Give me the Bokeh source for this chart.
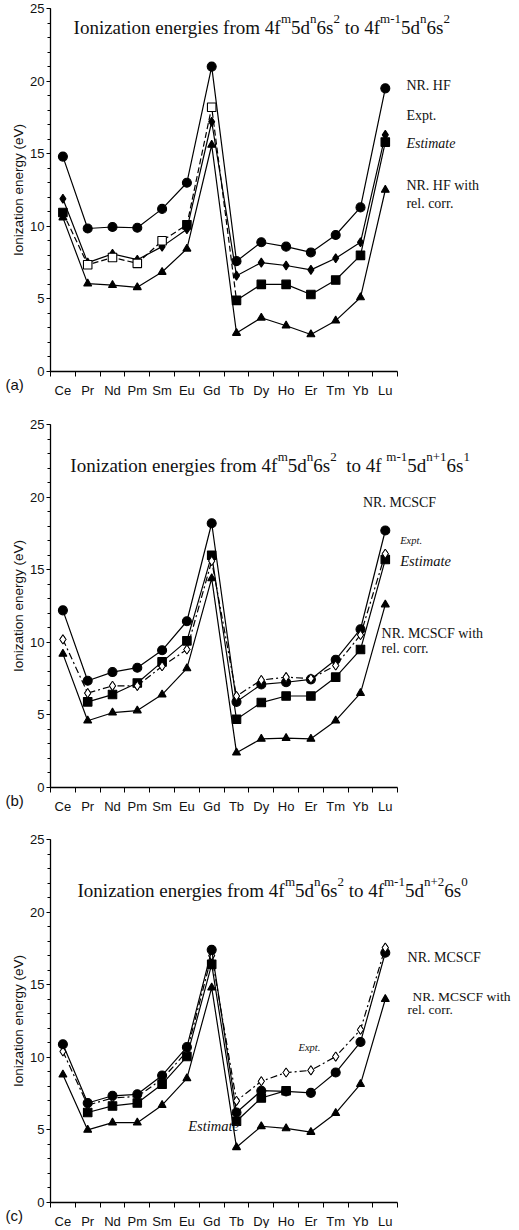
from bokeh.plotting import figure
from bokeh.layouts import column
from bokeh.models import Range1d, FixedTicker, SingleIntervalTicker, Label, CustomJSTickFormatter
from bokeh.embed import file_html
from bokeh.resources import INLINE

NAN = float("nan")

categories = ["Ce", "Pr", "Nd", "Pm", "Sm", "Eu", "Gd", "Tb", "Dy", "Ho", "Er", "Tm", "Yb", "Lu"]

# ---- panel (a) ----
a_nrhf = [14.8, 9.85, 9.95, 9.9, 11.2, 13.0, 21.0, 7.6, 8.9, 8.6, 8.2, 9.4, 11.3, 19.5]
a_diamond = [11.9, 7.5, 8.1, 7.7, 8.6, 9.8, 17.2, 6.6, 7.5, 7.3, 7.0, 7.8, 8.9, 16.3]
a_expt = [None, 7.35, 7.85, 7.45, 9.0, None, 18.2, None, None, None, None, None, None, None]
a_estimate = [10.95, None, None, None, None, 10.1, None, 4.9, 6.0, 6.0, 5.3, 6.3, 8.0, 15.8]
a_relcorr = [10.6, 6.05, 5.95, 5.8, 6.85, 8.45, 15.6, 2.65, 3.7, 3.15, 2.55, 3.5, 5.1, 12.5]

# ---- panel (b) ----
b_mcscf = [12.2, 7.35, 7.95, 8.25, 9.45, 11.45, 18.2, 5.9, 7.1, 7.25, 7.45, 8.8, 10.9, 17.7]
b_expt = [10.2, 6.5, 7.0, 7.0, 8.35, 9.5, 15.6, 6.3, 7.4, 7.6, 7.5, 8.4, 10.5, 16.1]
b_estimate = [None, 5.9, 6.4, 7.2, 8.65, 10.1, 16.0, 4.7, 5.85, 6.3, 6.3, 7.6, 9.5, 15.7]
b_relcorr = [9.2, 4.6, 5.15, 5.3, 6.4, 8.2, 14.4, 2.4, 3.35, 3.4, 3.35, 4.6, 6.5, 12.6]

# ---- panel (c) ----
c_mcscf = [10.9, 6.85, 7.35, 7.45, 8.75, 10.7, 17.4, 6.2, 7.7, 7.65, 7.55, 8.95, 11.05, 17.2]
c_expt = [10.4, 6.7, 7.2, 7.3, 8.5, 10.4, 17.0, 7.0, 8.35, 8.95, 9.1, 10.05, 11.9, 17.55]
c_estimate = [None, 6.2, 6.65, 6.85, 8.15, 10.05, 16.4, 5.6, 7.2, 7.7, None, None, None, None]
c_relcorr = [8.8, 5.0, 5.5, 5.5, 6.7, 8.55, 14.8, 3.8, 5.25, 5.1, 4.85, 6.15, 8.15, 14.0]

y_ticks_major = 5
y_max = 25

# ---- layout constants ----
FIG_W = 517
AXIS_X_PX = 50          # where the value axis sits inside the figure
PX_PER_CAT = 24.8
PXY = 14.52             # pixels per eV
X_MIN = -AXIS_X_PX / PX_PER_CAT
X_MAX = (FIG_W - AXIS_X_PX) / PX_PER_CAT

SERIF = "Liberation Serif"
SANS = "Liberation Sans"

TIMES_W = {
    'I': 333, 'o': 500, 'n': 500, 'i': 278, 'z': 444, 'a': 444, 't': 278, 'e': 444,
    'r': 333, 'g': 500, 's': 389, ' ': 250, 'f': 333, 'm': 778, 'd': 500, '-': 333,
    '+': 564, '0': 500, '1': 500, '2': 500, '4': 500, '5': 500, '6': 500,
}


def text_width(s, size):
    return sum(TIMES_W.get(ch, 500) for ch in s) / 1000.0 * size


def clean(vals):
    return [NAN if v is None else v for v in vals]


xs = [i + 0.5 for i in range(len(categories))]


def make_fig(height, top_px):
    y_top = y_max + top_px / PXY
    y_bot = -(height - top_px - y_max * PXY) / PXY
    p = figure(frame_width=FIG_W, frame_height=height,
               x_range=Range1d(X_MIN, X_MAX), y_range=Range1d(y_bot, y_top),
               output_backend="svg", toolbar_location=None,
               min_border=0, min_border_left=0, min_border_right=0,
               min_border_top=0, min_border_bottom=0)
    p.outline_line_color = None
    p.xgrid.visible = False
    p.ygrid.visible = False
    p.background_fill_color = "white"
    p.border_fill_color = "white"

    xa = p.xaxis[0]
    xa.fixed_location = 0
    xa.bounds = (0, len(categories))
    xa.ticker = FixedTicker(ticks=xs, minor_ticks=list(range(len(categories) + 1)))
    xa.formatter = CustomJSTickFormatter(args=dict(cats=categories),
                                         code="return cats[Math.floor(tick)] || '';")
    xa.major_tick_out = 0
    xa.major_tick_in = 0
    xa.minor_tick_out = 5
    xa.minor_tick_in = 0
    xa.major_label_standoff = 6
    xa.major_label_text_font = SANS
    xa.major_label_text_font_size = "13px"
    xa.major_label_text_color = "#111111"
    xa.axis_line_color = "black"
    xa.axis_line_width = 1.3
    xa.minor_tick_line_color = "black"

    ya = p.yaxis[0]
    ya.fixed_location = 0
    ya.bounds = (0, y_max)
    ya.ticker = SingleIntervalTicker(interval=y_ticks_major, num_minor_ticks=5)
    ya.major_tick_out = 4
    ya.major_tick_in = 0
    ya.minor_tick_out = 3
    ya.minor_tick_in = 0
    ya.major_label_standoff = 2
    ya.major_label_text_font = SANS
    ya.major_label_text_font_size = "13px"
    ya.major_label_text_color = "#111111"
    ya.axis_label = "Ionization energy (eV)"
    ya.axis_label_text_font = SANS
    ya.axis_label_text_font_style = "normal"
    ya.axis_label_text_font_size = "13.5px"
    ya.axis_label_text_color = "#111111"
    ya.axis_label_standoff = 1
    ya.axis_line_color = "black"
    ya.axis_line_width = 1.3
    return p


def series(p, vals, marker, size, filled=True, dash="solid", line=True):
    v = clean(vals)
    if line:
        p.line(xs, v, line_color="black", line_width=1.2, line_dash=dash)
    p.scatter(xs, v, marker=marker, size=size, line_color="black", line_width=1.1,
              fill_color="black" if filled else "white")


def label(p, x, y, text, size="14px", style="normal", font=SERIF, baseline="middle"):
    p.add_layout(Label(x=x, y=y, text=text, text_font=font, text_font_size=size,
                       text_font_style=style, text_baseline=baseline, text_align="left",
                       text_color="#111111"))


def rich_title(p, x0, y0, segs, size=19.0, sup=13.0, raise_px=8.5):
    x = x0
    for s, is_sup in segs:
        fs = sup if is_sup else size
        lead = len(s) - len(s.lstrip(" "))
        core = s.strip(" ")
        x += text_width(" " * lead, fs) / PX_PER_CAT
        y = y0 + (raise_px / PXY if is_sup else 0.0)
        p.add_layout(Label(x=x, y=y, text=core, text_font=SERIF, text_font_size=f"{fs}px",
                           text_baseline="alphabetic", text_align="left", text_color="#111111"))
        x += text_width(core, fs) / PX_PER_CAT
        trail = len(s) - len(s.rstrip(" "))
        x += text_width(" " * trail, fs) / PX_PER_CAT


def panel_tag(p, tag):
    p.add_layout(Label(x=-45.0 / PX_PER_CAT, y=-13.0 / PXY, text=tag, text_font=SANS,
                       text_font_size="15px", text_baseline="middle", text_align="left",
                       text_color="#111111"))


# ================= panel (a) =================
pa = make_fig(416, 8)
combined_a = [e if e is not None else s for e, s in zip(a_expt, a_estimate)]
split = categories.index("Tb")
pa.line(xs[:split + 1], combined_a[:split + 1], line_color="black", line_width=1.2, line_dash="6 3")
pa.line(xs[split:], combined_a[split:], line_color="black", line_width=1.2)
series(pa, a_nrhf, "circle", 9)
series(pa, a_diamond, "diamond", 9)
series(pa, a_relcorr, "triangle", 8)
series(pa, a_estimate, "square", 8.5, line=False)
series(pa, a_expt, "square", 8.5, filled=False, line=False)
rich_title(pa, 0.93, 23.7, [("Ionization energies from 4f", False), ("m", True), ("5d", False), ("n", True),
                            ("6s", False), ("2", True), (" to 4f", False), ("m-1", True), ("5d", False),
                            ("n", True), ("6s", False), ("2", True)])
label(pa, 14.35, 19.7, "NR. HF")
label(pa, 14.35, 17.6, "Expt.")
label(pa, 14.35, 15.7, "Estimate", style="italic")
label(pa, 14.35, 12.8, "NR. HF with")
label(pa, 14.35, 11.6, "rel. corr.")
panel_tag(pa, "(a)")

# ================= panel (b) =================
pb = make_fig(415, 8)
series(pb, b_expt, "diamond", 9, filled=False, dash="7 3 2 3", line=True)
series(pb, b_mcscf, "circle", 9)
series(pb, b_estimate, "square", 8.5)
series(pb, b_relcorr, "triangle", 8)
pb.scatter(xs, b_expt, marker="diamond", size=9, line_color="black", line_width=1.0, fill_color="white")
rich_title(pb, 0.8, 22.2, [("Ionization energies from 4f", False), ("m", True), ("5d", False), ("n", True),
                           ("6s", False), ("2", True), ("  to  4f", False), ("m-1", True), ("5d", False),
                           ("n+1", True), ("6s", False), ("1", True)])
label(pb, 12.6, 19.6, "NR. MCSCF")
label(pb, 14.1, 17.0, "Expt.", size="10.5px", style="italic")
label(pb, 14.1, 15.6, "Estimate", style="italic", size="14.5px")
label(pb, 13.35, 10.6, "NR. MCSCF with")
label(pb, 13.35, 9.6, "rel. corr.")
panel_tag(pb, "(b)")

# ================= panel (c) =================
pc = make_fig(397, 8)
series(pc, c_expt, "diamond", 9, filled=False, dash="7 3 2 3", line=True)
series(pc, c_mcscf, "circle", 9)
series(pc, c_estimate, "square", 8.5)
series(pc, c_relcorr, "triangle", 8)
pc.scatter(xs[7:], c_expt[7:], marker="diamond", size=9, line_color="black", line_width=1.0, fill_color="white")
rich_title(pc, 1.09, 21.5, [("Ionization energies from 4f", False), ("m", True), ("5d", False), ("n", True),
                            ("6s", False), ("2", True), (" to 4f", False), ("m-1", True), ("5d", False),
                            ("n+2", True), ("6s", False), ("0", True)])
label(pc, 14.4, 16.85, "NR. MCSCF")
label(pc, 14.6, 14.2, "NR. MCSCF with", size="13.5px")
label(pc, 14.4, 13.3, "rel. corr.", size="13.5px")
label(pc, 10.0, 10.7, "Expt.", size="10.5px", style="italic")
label(pc, 5.55, 5.3, "Estimate", style="italic", size="14.5px")
panel_tag(pc, "(c)")

layout = column(pa, pb, pc, spacing=0)
open("out.html", "w").write(file_html(layout, INLINE))
